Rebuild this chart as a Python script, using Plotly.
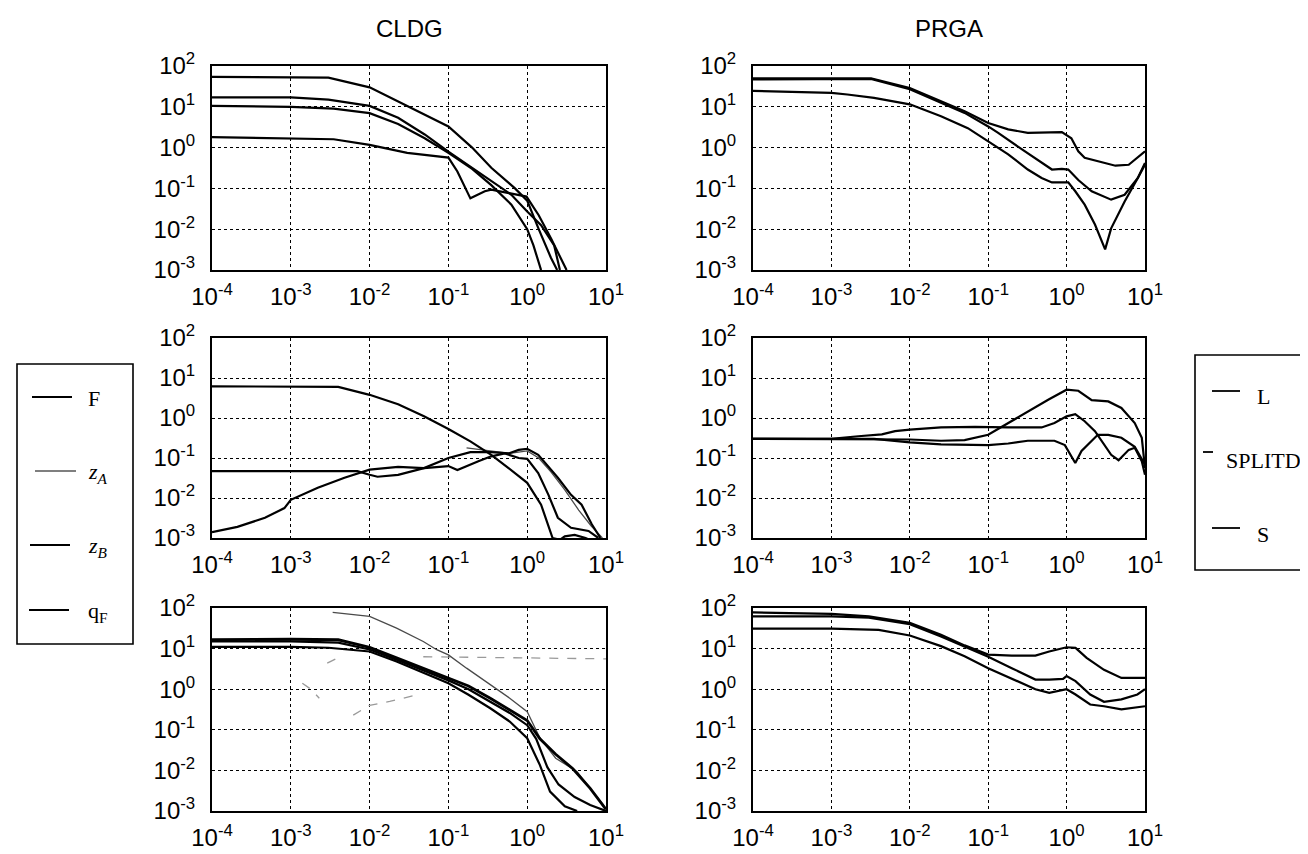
import plotly.graph_objects as go

W, H = 1308, 854

# ---------------- data ----------------
# CLDG, row 1
cldg1_F_x = [1e-4, 1e-3, 3e-3, 1e-2, 3e-2, 0.1, 0.2, 0.35, 0.7, 1.0, 1.4, 2.0, 2.4]
cldg1_F_y = [54, 54, 52, 30, 10.5, 3.3, 1.0, 0.32, 0.1, 0.05, 0.01, 0.002, 0.001]
cldg1_zA_x = [1e-4, 1e-3, 3e-3, 1e-2, 2.3e-2, 5e-2, 0.1, 0.2, 0.35, 0.63, 1.0, 1.5, 2.2, 2.6]
cldg1_zA_y = [17, 17, 15, 10.5, 5.4, 2.1, 0.8, 0.32, 0.15, 0.07, 0.027, 0.0126, 0.004, 0.001]
cldg1_zB_x = [1e-4, 1e-3, 3.5e-3, 1e-2, 2.3e-2, 5e-2, 0.1, 0.2, 0.35, 0.63, 1.0, 1.2, 1.5]
cldg1_zB_y = [10.5, 10, 9, 7, 3.8, 1.7, 0.74, 0.3, 0.12, 0.04, 0.01, 0.004, 0.001]
cldg1_qF_x = [1e-4, 1e-3, 3.5e-3, 1e-2, 3e-2, 0.1, 0.13, 0.19, 0.29, 0.35, 0.69, 0.98, 1.4, 2.0, 3.16]
cldg1_qF_y = [1.8, 1.7, 1.6, 1.17, 0.74, 0.57, 0.26, 0.057, 0.085, 0.093, 0.072, 0.063, 0.022, 0.006, 0.001]

# CLDG, row 2
cldg2_F_x = [1e-4, 4e-3, 1e-2, 2.3e-2, 4.9e-2, 0.1, 0.19, 0.35, 0.58, 1.0, 1.5, 2.1, 2.6, 3.0, 4.0, 5.5, 7.0]
cldg2_F_y = [6.2, 6.0, 3.8, 2.2, 1.1, 0.53, 0.26, 0.12, 0.056, 0.024, 0.0068, 0.001, 0.0009, 0.0011, 0.0012, 0.001, 0.0008]
cldg2_zA_x = [0.17, 0.35, 0.6, 1.0, 1.4, 2.0, 3.0, 4.5, 6.5, 9.0]
cldg2_zA_y = [0.18, 0.15, 0.13, 0.15, 0.1, 0.045, 0.016, 0.005, 0.002, 0.001]
cldg2_zB_x = [1e-4, 7e-3, 1e-2, 1.26e-2, 2.3e-2, 4.9e-2, 0.1, 0.13, 0.24, 0.35, 0.52, 0.78, 1.0, 1.38, 1.86, 2.45, 3.6, 6.0, 8.0]
cldg2_zB_y = [0.047, 0.047, 0.038, 0.034, 0.038, 0.056, 0.063, 0.05, 0.083, 0.11, 0.13, 0.1, 0.095, 0.042, 0.012, 0.0032, 0.0018, 0.0015, 0.001]
cldg2_qF_x = [1e-4, 2.1e-4, 4.7e-4, 8.3e-4, 1e-3, 2.2e-3, 4.8e-3, 1e-2, 2.3e-2, 4.9e-2, 0.1, 0.19, 0.35, 0.58, 0.78, 1.0, 1.38, 1.86, 2.45, 3.6, 4.9, 6.6, 8.5]
cldg2_qF_y = [0.0014, 0.0019, 0.0032, 0.0056, 0.009, 0.018, 0.032, 0.051, 0.06, 0.056, 0.1, 0.14, 0.14, 0.13, 0.16, 0.17, 0.12, 0.062, 0.032, 0.012, 0.0068, 0.0022, 0.001]

# CLDG, row 3
cldg3_F_x = [1e-4, 1e-3, 4e-3, 1e-2, 2.2e-2, 4.8e-2, 0.1, 0.18, 0.34, 0.6, 1.0, 1.45, 2.3, 3.8, 6.3, 10]
cldg3_F_y = [16.5, 17, 16.5, 10.7, 5.9, 3.3, 1.9, 1.2, 0.6, 0.31, 0.17, 0.06, 0.025, 0.011, 0.0036, 0.0011]
cldg3_zA_x = [3.4e-3, 1e-2, 2.2e-2, 4.8e-2, 7.1e-2, 0.1, 0.17, 0.3, 0.6, 1.0, 1.45, 2.3, 4.3, 6.3, 9.3]
cldg3_zA_y = [78, 62, 32, 15, 9.4, 7, 3.3, 1.55, 0.6, 0.28, 0.063, 0.02, 0.0093, 0.0036, 0.0014]
cldg3_zB_x = [1e-4, 1e-3, 4e-3, 1e-2, 2.2e-2, 4.8e-2, 0.1, 0.18, 0.34, 0.6, 1.0, 1.3, 1.8, 2.5, 4.0, 6.3, 10]
cldg3_zB_y = [15, 15, 14, 9.5, 5.3, 2.9, 1.65, 1.0, 0.5, 0.26, 0.13, 0.06, 0.012, 0.0045, 0.0022, 0.0014, 0.001]
cldg3_qF_x = [1e-4, 1e-3, 3e-3, 1e-2, 2.2e-2, 4.8e-2, 0.1, 0.18, 0.34, 0.6, 1.0, 1.45, 1.95, 3.0, 4.3]
cldg3_qF_y = [11, 11, 10.5, 8.5, 4.8, 2.5, 1.4, 0.73, 0.34, 0.16, 0.062, 0.0135, 0.003, 0.0013, 0.001]
cldg3_faint_x = [1.4e-3, 1.8e-3, 2.3e-3, None, 2.9e-3, 4.2e-3, None, 6.2e-3, 1e-2, 1.8e-2, 3.9e-2, None, 4.8e-2, 0.3, 1.5, 10]
cldg3_faint_y = [1.4, 1.0, 0.6, None, 4.4, 6.3, None, 0.23, 0.4, 0.5, 0.72, None, 6.3, 6.0, 5.8, 5.6]

# PRGA, row 1
prga1_L_x = [1e-4, 3.2e-3, 1e-2, 0.025, 0.05, 0.1, 0.18, 0.32, 0.48, 0.87, 1.15, 1.41, 1.7, 2.5, 4.2, 6.2, 10]
prga1_L_y = [50, 50, 29, 13.8, 7.8, 4.0, 2.8, 2.3, 2.3, 2.4, 1.7, 0.81, 0.56, 0.46, 0.36, 0.38, 0.81]
prga1_SP_x = [1e-4, 3.2e-3, 1e-2, 0.025, 0.05, 0.1, 0.134, 0.27, 0.48, 0.65, 0.87, 1.05, 1.41, 2.09, 3.7, 5.5, 8.1, 10]
prga1_SP_y = [47, 48, 27, 12.6, 7.1, 3.3, 2.3, 0.9, 0.42, 0.29, 0.3, 0.29, 0.16, 0.085, 0.053, 0.07, 0.18, 0.42]
prga1_S_x = [1e-4, 1e-3, 1.6e-3, 3.5e-3, 1e-2, 0.025, 0.055, 0.1, 0.18, 0.32, 0.48, 0.65, 1.05, 1.29, 1.7, 2.3, 3.1, 3.7, 5.5, 8.1, 10]
prga1_S_y = [24.5, 22, 20, 16.6, 11.5, 5.9, 3.0, 1.44, 0.68, 0.29, 0.18, 0.14, 0.14, 0.085, 0.04, 0.013, 0.0032, 0.0105, 0.048, 0.18, 0.38]

# PRGA, row 2
prga2_L_x = [1e-4, 1e-2, 0.025, 0.05, 0.1, 0.18, 0.32, 0.59, 1.0, 1.41, 2.09, 3.4, 5.0, 7.4, 9.1, 10]
prga2_L_y = [0.3, 0.29, 0.27, 0.28, 0.38, 0.75, 1.47, 2.9, 5.1, 4.8, 2.8, 2.6, 1.78, 0.75, 0.32, 0.056]
prga2_SP_x = [1e-4, 1e-3, 2.2e-3, 4.4e-3, 6.5e-3, 1e-2, 0.025, 0.068, 0.18, 0.48, 0.7, 1.0, 1.29, 1.7, 2.3, 2.8, 3.7, 4.6, 6.2, 7.4, 9.1, 10]
prga2_SP_y = [0.3, 0.3, 0.35, 0.39, 0.47, 0.51, 0.58, 0.6, 0.58, 0.58, 0.75, 1.1, 1.25, 0.83, 0.47, 0.26, 0.12, 0.088, 0.16, 0.18, 0.083, 0.038]
prga2_S_x = [1e-4, 3.5e-3, 1e-2, 0.025, 0.1, 0.18, 0.32, 0.7, 0.95, 1.29, 1.55, 2.5, 3.4, 5.0, 7.4, 10]
prga2_S_y = [0.3, 0.3, 0.245, 0.22, 0.21, 0.23, 0.27, 0.27, 0.21, 0.075, 0.15, 0.38, 0.38, 0.32, 0.19, 0.068]

# PRGA, row 3
prga3_L_x = [1e-4, 1e-3, 3e-3, 1e-2, 0.025, 0.05, 0.1, 0.2, 0.4, 0.6, 1.0, 1.3, 1.8, 3, 5, 10]
prga3_L_y = [78, 72, 62, 43, 22, 12, 7.1, 6.7, 6.7, 8.5, 10.8, 10.4, 5.9, 3.0, 1.9, 1.9]
prga3_SP_x = [1e-4, 1e-3, 3e-3, 1e-2, 0.025, 0.05, 0.1, 0.2, 0.4, 0.6, 0.9, 1.0, 1.3, 2, 3, 5, 8, 10]
prga3_SP_y = [62, 62, 58, 40, 20, 11, 6.3, 3.3, 1.73, 1.73, 1.8, 2.1, 1.58, 0.74, 0.49, 0.56, 0.74, 1.0]
prga3_S_x = [1e-4, 1e-3, 4e-3, 1e-2, 0.025, 0.05, 0.1, 0.2, 0.4, 0.6, 0.8, 1.0, 1.3, 2, 3, 5, 10]
prga3_S_y = [31, 31, 29, 21, 11.5, 6.5, 3.3, 1.8, 1.0, 0.81, 0.89, 1.0, 0.74, 0.42, 0.38, 0.32, 0.38]

# axes ticks
x_tick_vals = [1e-4, 1e-3, 1e-2, 1e-1, 1e0, 1e1]
x_tick_text = ["10<sup>-4</sup>", "10<sup>-3</sup>", "10<sup>-2</sup>", "10<sup>-1</sup>", "10<sup>0</sup>", "10<sup>1</sup>"]
y_tick_vals = [1e-3, 1e-2, 1e-1, 1e0, 1e1, 1e2]
y_tick_text = ["10<sup>-3</sup>", "10<sup>-2</sup>", "10<sup>-1</sup>", "10<sup>0</sup>", "10<sup>1</sup>", "10<sup>2</sup>"]

column_titles = ["CLDG", "PRGA"]
left_legend_labels = ["F", "<i>z<sub>A</sub></i>", "<i>z<sub>B</sub></i>", "q<sub>F</sub>"]
right_legend_labels = ["L", "SPLITD", "S"]

# ---------------- figure ----------------
BLACK = dict(color="black", width=2.2)
THIN = dict(color="#4a4a4a", width=1.3)
FAINT = dict(color="#9a9a9a", width=1.3, dash="dash")

series = [
    (0, 0, cldg1_F_x, cldg1_F_y, BLACK),
    (0, 0, cldg1_zA_x, cldg1_zA_y, BLACK),
    (0, 0, cldg1_zB_x, cldg1_zB_y, BLACK),
    (0, 0, cldg1_qF_x, cldg1_qF_y, BLACK),
    (1, 0, cldg2_zA_x, cldg2_zA_y, THIN),
    (1, 0, cldg2_F_x, cldg2_F_y, BLACK),
    (1, 0, cldg2_zB_x, cldg2_zB_y, BLACK),
    (1, 0, cldg2_qF_x, cldg2_qF_y, BLACK),
    (2, 0, cldg3_faint_x, cldg3_faint_y, FAINT),
    (2, 0, cldg3_zA_x, cldg3_zA_y, THIN),
    (2, 0, cldg3_F_x, cldg3_F_y, dict(color="black", width=2.8)),
    (2, 0, cldg3_zB_x, cldg3_zB_y, BLACK),
    (2, 0, cldg3_qF_x, cldg3_qF_y, BLACK),
    (0, 1, prga1_L_x, prga1_L_y, BLACK),
    (0, 1, prga1_SP_x, prga1_SP_y, BLACK),
    (0, 1, prga1_S_x, prga1_S_y, BLACK),
    (1, 1, prga2_L_x, prga2_L_y, BLACK),
    (1, 1, prga2_SP_x, prga2_SP_y, BLACK),
    (1, 1, prga2_S_x, prga2_S_y, BLACK),
    (2, 1, prga3_L_x, prga3_L_y, BLACK),
    (2, 1, prga3_SP_x, prga3_SP_y, BLACK),
    (2, 1, prga3_S_x, prga3_S_y, BLACK),
]

col_px = [(204, 598), (745, 1137)]
row_px = [(58, 262), (330, 530), (600, 803)]


def fx(p):
    return p / W


def fy(p):
    return 1 - p / H


fig = go.Figure()
for r, c, xs, ys, st in series:
    k = r * 2 + c + 1
    sfx = "" if k == 1 else str(k)
    fig.add_trace(go.Scatter(x=xs, y=ys, mode="lines", line=st,
                             xaxis="x" + sfx, yaxis="y" + sfx,
                             showlegend=False, hoverinfo="skip"))

TICKFONT = dict(family="Liberation Sans, Arial, sans-serif", size=24, color="black")
layout = dict(width=W, height=H, margin=dict(l=0, r=0, t=0, b=0, autoexpand=False),
              paper_bgcolor="white", plot_bgcolor="white", showlegend=False)
for r in range(3):
    for c in range(2):
        k = r * 2 + c + 1
        sfx = "" if k == 1 else str(k)
        common = dict(type="log", tickmode="array", showgrid=True, gridcolor="black",
                      griddash="dot", gridwidth=1.3, showline=True, mirror=True,
                      linecolor="black", linewidth=2, ticks="", zeroline=False,
                      tickfont=TICKFONT, automargin=False)
        layout["xaxis" + sfx] = dict(common, domain=[fx(col_px[c][0]), fx(col_px[c][1])],
                                     anchor="y" + sfx, range=[-4, 1],
                                     tickvals=x_tick_vals, ticktext=x_tick_text,
                                     ticklabelstandoff=4)
        layout["yaxis" + sfx] = dict(common, domain=[fy(row_px[r][1]), fy(row_px[r][0])],
                                     anchor="x" + sfx, range=[-3, 2],
                                     tickvals=y_tick_vals, ticktext=y_tick_text,
                                     ticklabelstandoff=10)
fig.update_layout(**layout)

# column titles
for c, t in enumerate(column_titles):
    fig.add_annotation(x=fx((col_px[c][0] + col_px[c][1]) / 2), y=fy(20), xref="paper", yref="paper",
                       text=t, showarrow=False, xanchor="center", yanchor="middle",
                       font=dict(family="Liberation Sans, Arial, sans-serif", size=24, color="black"))

SERIF = dict(family="Liberation Serif, Times New Roman, serif", size=22, color="black")

# left legend box
fig.add_shape(type="rect", xref="paper", yref="paper", x0=fx(9), x1=fx(125), y0=fy(636), y1=fy(356),
              line=dict(color="black", width=1.6), fillcolor="white", layer="above")
left_rows = [(389, 24, 64, 1.8), (463, 27, 68, 1.2), (537, 22, 62, 1.8), (602, 21, 61, 1.8)]
for (yy, a, b, lw), lab in zip(left_rows, left_legend_labels):
    fig.add_shape(type="line", xref="paper", yref="paper", x0=fx(a), x1=fx(b), y0=fy(yy), y1=fy(yy),
                  line=dict(color="black", width=lw))
    fig.add_annotation(x=fx(78), y=fy(yy + 2), xref="paper", yref="paper", text=lab, showarrow=False,
                       xanchor="left", yanchor="middle", font=SERIF)

# right legend box
fig.add_shape(type="rect", xref="paper", yref="paper", x0=fx(1187), x1=fx(1302), y0=fy(562), y1=fy(347),
              line=dict(color="black", width=1.6), fillcolor="white", layer="above")
right_rows = [(383, 1204, 1232, 1247), (444, 1195, 1205, 1216), (520, 1204, 1232, 1247)]
for (yy, a, b, tx), lab in zip(right_rows, right_legend_labels):
    fig.add_shape(type="line", xref="paper", yref="paper", x0=fx(a), x1=fx(b), y0=fy(yy), y1=fy(yy),
                  line=dict(color="black", width=1.8))
    fig.add_annotation(x=fx(tx), y=fy(yy + 6 if lab != "SPLITD" else yy + 8), xref="paper", yref="paper",
                       text=lab, showarrow=False, xanchor="left", yanchor="middle", font=SERIF)

fig.write_html("out.html")
